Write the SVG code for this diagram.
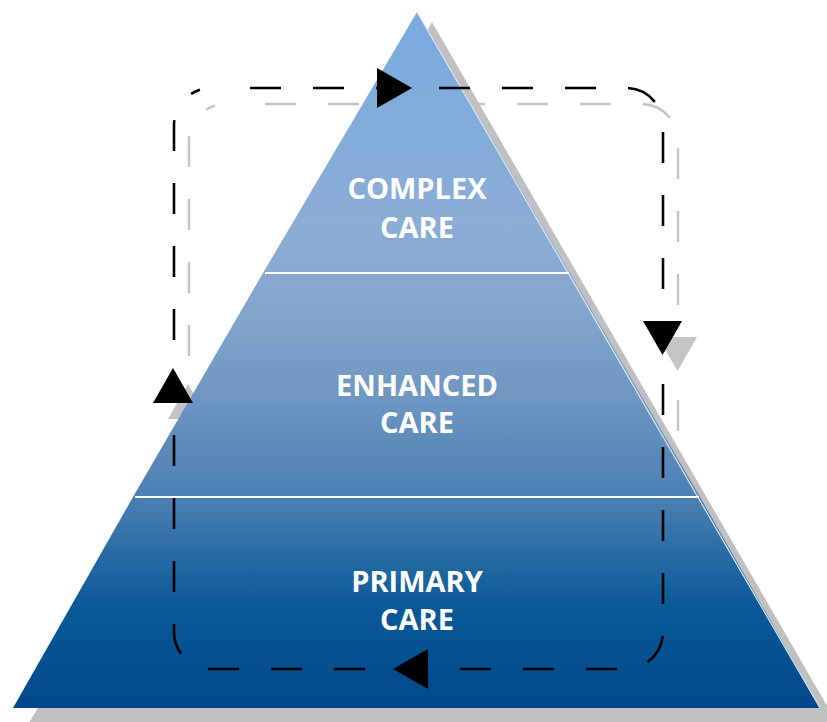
<svg xmlns="http://www.w3.org/2000/svg" width="827" height="722" viewBox="0 0 827 722">
<defs>
<linearGradient id="pyr" gradientUnits="userSpaceOnUse" x1="0" y1="12" x2="0" y2="708">
<stop offset="0" stop-color="#79abe0"/>
<stop offset="0.3" stop-color="#8badd6"/>
<stop offset="0.4" stop-color="#87a8ce"/>
<stop offset="0.55" stop-color="#6f97c2"/>
<stop offset="0.7" stop-color="#4a7fb2"/>
<stop offset="0.85" stop-color="#0b5a98"/>
<stop offset="1" stop-color="#00488a"/>
</linearGradient>
<path id="loop" d="M250 88 H626 A37 37 0 0 1 663 125 V632 A37 37 0 0 1 626 669 H211 A37 37 0 0 1 174 632 V125 A37 37 0 0 1 200 89.7"/>
</defs>
<style>
.loopline{fill:none;stroke-width:2.6;stroke-dasharray:31 32}
.blk{stroke:#000}
.gry{stroke:#c4c4c4;stroke-width:2.4}
.arr{fill:#000}
.arrg{fill:#c4c4c4}
.tier{fill:url(#pyr)}
.lbl{font-family:"Open Sans","Liberation Sans",sans-serif;font-weight:bold;font-size:29px;fill:#fff;text-anchor:middle}
.div{stroke:#fff;stroke-width:2}
</style>
<rect width="827" height="722" fill="#fff"/>
<g id="loop-shadow">
<use href="#loop" class="loopline gry" transform="translate(15,16)"/>
<polygon class="arrg" points="392,84 392,124 427,104"/>
<polygon class="arrg" points="658,337 697,337 677.5,371"/>
<polygon class="arrg" points="168,419 208,419 188,384"/>
<polygon class="arrg" points="443,665 443,705 408,685"/>
</g>
<polygon id="pyramid-shadow" points="432,22 29,723 837,723" fill="#c0c0c0"/>
<g id="complex-care">
<polygon class="tier" points="417,12 263,273 570,273"/>
<text class="lbl" x="417" y="199">COMPLEX</text>
<text class="lbl" x="417" y="238">CARE</text>
</g>
<g id="enhanced-care">
<polygon class="tier" points="263,273 570,273 700,497 133,497"/>
<text class="lbl" x="417" y="396">ENHANCED</text>
<text class="lbl" x="417" y="433">CARE</text>
</g>
<g id="primary-care">
<polygon class="tier" points="133,497 700,497 820,708 13,708"/>
<text class="lbl" x="417" y="592">PRIMARY</text>
<text class="lbl" x="417" y="630">CARE</text>
</g>
<line x1="417" y1="12" x2="820" y2="708" stroke="#dce7f3" stroke-width="1.2"/>
<line class="div" x1="265" y1="273" x2="569" y2="273"/>
<line class="div" x1="135" y1="497" x2="699" y2="497"/>
<g id="connectors">
<use href="#loop" class="loopline blk"/>
<polygon class="arr" points="377,68 377,108 412,88"/>
<polygon class="arr" points="643,321 682,321 662.5,355"/>
<polygon class="arr" points="153,403 193,403 173,368"/>
<polygon class="arr" points="428,649 428,689 393,669"/>
</g>
</svg>
